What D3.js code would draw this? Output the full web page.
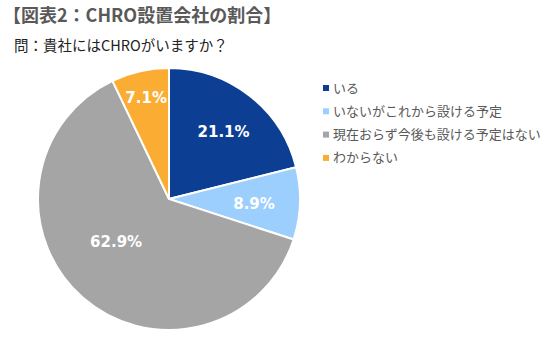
<!DOCTYPE html>
<html><head><meta charset="utf-8">
<script src="https://cdn.jsdelivr.net/npm/d3@7"></script>
<style>body{margin:0;background:#fff;}</style>
</head><body>
<script>
const categories = ["いる","いないがこれから設ける予定","現在おらず今後も設ける予定はない","わからない"];
const values = [21.1, 8.9, 62.9, 7.1];
const colors = ["#0c3f93","#9ccffd","#a5a5a5","#fbad33"];
const title = "【図表2：CHRO設置会社の割合】";
const subtitle = "問：貴社にはCHROがいますか？";

const W=550,H=338;
const svg=d3.select("body").append("svg").attr("width",W).attr("height",H);
const jp="'Noto Sans CJK JP', sans-serif";
svg.append("text").attr("x",3).attr("y",22).attr("font-family",jp).attr("font-weight","bold")
  .attr("font-size",18).attr("fill","#595959").text(title);
svg.append("text").attr("x",14).attr("y",51).attr("font-family",jp)
  .attr("font-size",14.5).attr("fill","#222").text(subtitle);

const cx=169, cy=199, r=131;
const pie=d3.pie().sort(null).value(d=>d)(values);
const arc=d3.arc().innerRadius(0).outerRadius(r);
const g=svg.append("g").attr("transform",`translate(${cx},${cy})`);
g.selectAll("path").data(pie).join("path").attr("d",arc)
  .attr("fill",(d,i)=>colors[i]).attr("stroke","#fff").attr("stroke-width",2);
// label placement (best-fit style): radial factor and angular nudge per slice
const labelRadius=[0.66,0.65,0.52,0.79];
const labelShift=[0.02,0.02,0.17,0];
g.selectAll("text").data(pie).join("text")
  .attr("transform",(d,i)=>{
    const a=(d.startAngle+d.endAngle)/2+labelShift[i];
    const rr=r*labelRadius[i];
    return `translate(${rr*Math.sin(a)},${-rr*Math.cos(a)})`;
  })
  .attr("text-anchor","middle").attr("dy","0.35em")
  .attr("font-family","'DejaVu Sans', Verdana, sans-serif").attr("font-weight","bold")
  .attr("font-size",15).attr("fill","#fff").text(d=>d.data.toFixed(1)+"%");

const lg=svg.append("g").attr("transform","translate(323,88)");
categories.forEach((c,i)=>{
  const row=lg.append("g").attr("transform",`translate(0,${i*23.3})`);
  row.append("rect").attr("x",0).attr("y",-3).attr("width",6).attr("height",6).attr("fill",colors[i]);
  row.append("text").attr("x",10).attr("y",0).attr("dy","0.35em").attr("font-family",jp)
    .attr("font-size",13).attr("fill","#595959").text(c);
});
</script>
</body></html>
